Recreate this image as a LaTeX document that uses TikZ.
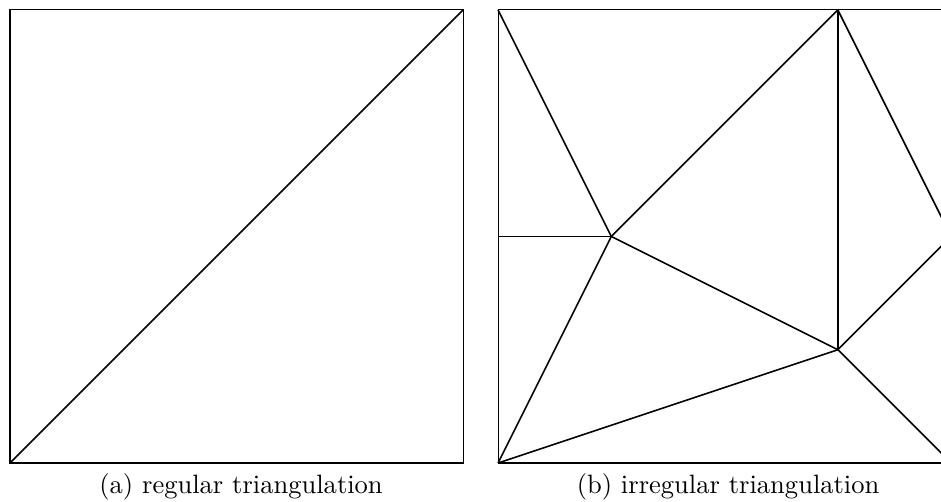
\documentclass[tikz,border=0pt]{standalone}
\usepackage{tikz}
\usetikzlibrary{positioning}

\begin{document}
\begin{tikzpicture}[
        frame/.style={draw, line width=0.4pt},
        edge/.style={draw, line width=0.6pt},
        captext/.style={font=\normalsize, inner sep=0pt},
    ]
    \useasboundingbox (-0.1325,-0.5166) rectangle (12.33,6.132);

    % ---- Left square: regular ----
    \coordinate (a00) at (0,0);
    \coordinate (a11) at (6,6);
    \draw[frame] (a00) rectangle (a11);
    \draw[edge] (a00) -- (a11);

    % ---- Right square: irregular ----
    \begin{scope}[shift={(6.464,0)}]
        \coordinate (b00) at (0,0);
        \coordinate (b01) at (0,6);
        \coordinate (b10) at (6,0);
        \coordinate (b11) at (6,6);
        \coordinate (bl)  at (0,3);
        \coordinate (bc)  at (1.5,3);
        \coordinate (bt)  at (4.5,6);
        \coordinate (bm)  at (4.5,1.5);
        \coordinate (br)  at (6,3);
        \draw[frame] (b00) rectangle (b11);
        \draw[edge] (b01) -- (bc);
        \draw[edge] (bl) -- (bc);
        \draw[edge] (bc) -- (bt);
        \draw[edge] (bc) -- (bm);
        \draw[edge] (bc) -- (b00);
        \draw[edge] (b00) -- (bm);
        \draw[edge] (bt) -- (bm);
        \draw[edge] (bt) -- (br);
        \draw[edge] (bm) -- (br);
        \draw[edge] (bm) -- (b10);
    \end{scope}

    % ---- Captions ----
    \node[captext] (capa) at (3.06,-0.31) {(a) regular triangulation};
    \node[captext] (capb) at (9.51,-0.31) {(b) irregular triangulation};

\end{tikzpicture}
\end{document}
